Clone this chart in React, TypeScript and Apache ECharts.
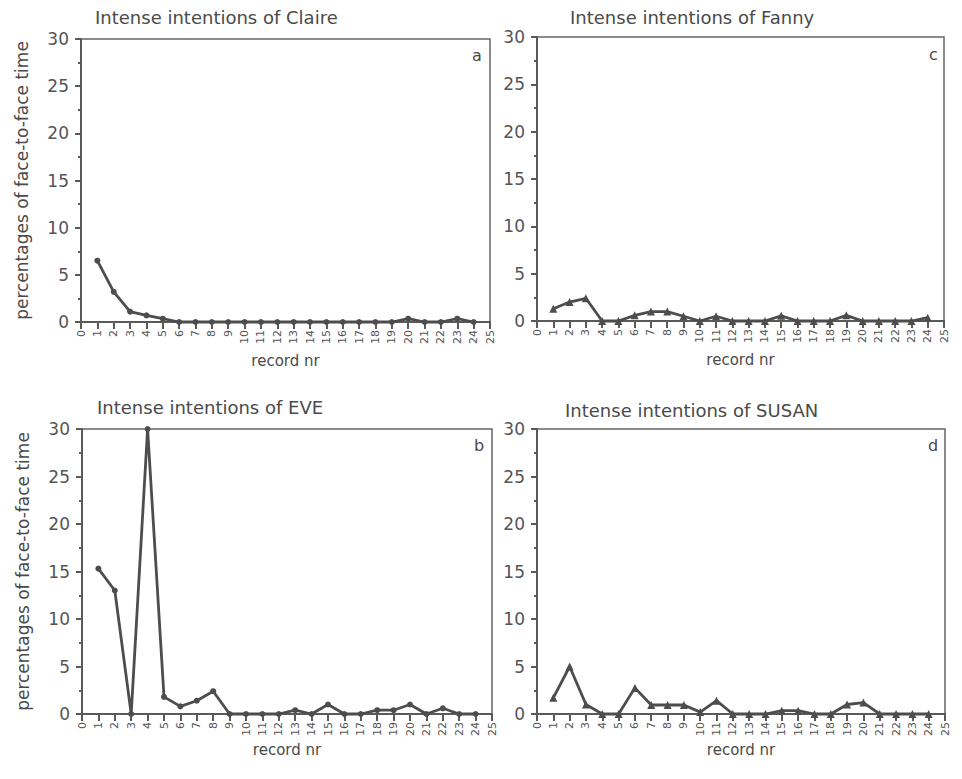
import React, { useEffect, useRef } from "react";
import * as echarts from "echarts";

const records = [1, 2, 3, 4, 5, 6, 7, 8, 9, 10, 11, 12, 13, 14, 15, 16, 17, 18, 19, 20, 21, 22, 23, 24];
const claire = [6.5, 3.2, 1.1, 0.7, 0.35, 0, 0, 0, 0, 0, 0, 0, 0, 0, 0, 0, 0, 0, 0, 0.35, 0, 0, 0.35, 0];
const eve = [15.3, 13.0, 0, 30, 1.8, 0.8, 1.4, 2.4, 0, 0, 0, 0, 0.4, 0, 1.0, 0, 0, 0.4, 0.4, 1.0, 0, 0.6, 0, 0];
const fanny = [1.3, 2.0, 2.4, 0, 0, 0.6, 1.0, 1.0, 0.5, 0, 0.5, 0, 0, 0, 0.55, 0, 0, 0, 0.6, 0, 0, 0, 0, 0.35];
const susan = [1.7, 5.0, 1.0, 0, 0, 2.75, 0.95, 0.95, 0.95, 0.2, 1.4, 0, 0, 0, 0.35, 0.35, 0, 0, 1.0, 1.2, 0, 0, 0, 0];
const titles = [
  "Intense intentions of Claire",
  "Intense intentions of EVE",
  "Intense intentions of Fanny",
  "Intense intentions of SUSAN",
];
const letters = ["a", "b", "c", "d"];
const xName = "record nr";
const yName = "percentages of face-to-face time";

const FONT = "DejaVu Sans";
const INK = "#4a4a4a";
const AX = "#5a5a5a";

export default function App() {
  const ref = useRef<HTMLDivElement>(null);
  useEffect(() => {
    if (!ref.current) return;
    const chart = echarts.init(ref.current, null, { renderer: "svg" });
    const grids = [
      { left: 81, top: 39, width: 409, height: 283 },
      { left: 82, top: 429, width: 410, height: 285 },
      { left: 537, top: 37, width: 407, height: 284 },
      { left: 537, top: 429, width: 408, height: 285 },
    ];
    const datasets = [claire, eve, fanny, susan];
    const symbols = ["circle", "circle", "triangle", "triangle"];
    const symbolSizes = [6, 6, 8, 8];
    const titlePos = [
      { left: 95, top: 8 },
      { left: 97, top: 398 },
      { left: 570, top: 8 },
      { left: 565, top: 401 },
    ];
    const option: any = {
      animation: false,
      backgroundColor: "#ffffff",
      textStyle: { fontFamily: FONT },
      title: titles.map((t, i) => ({
        text: t,
        left: titlePos[i].left,
        top: titlePos[i].top,
        padding: 0,
        textStyle: { fontFamily: FONT, fontSize: 18, fontWeight: "normal", color: INK },
      })),
      grid: grids.map((g) => ({
        ...g,
        show: true,
        borderColor: "#666",
        borderWidth: 1.5,
        backgroundColor: "transparent",
      })),
      xAxis: grids.map((g, i) => ({
        type: "value",
        gridIndex: i,
        min: 0,
        max: 25,
        interval: 1,
        name: xName,
        nameLocation: "middle",
        nameGap: i === 0 || i === 2 ? 31 : 28,
        nameTextStyle: { fontFamily: FONT, fontSize: 15, color: INK },
        axisLine: { show: true, onZero: false, lineStyle: { color: AX, width: 2 } },
        axisTick: { show: true, length: 7, lineStyle: { color: AX, width: 2 } },
        axisLabel: { rotate: 90, fontSize: 11, color: "#555", margin: 8, fontFamily: FONT },
        splitLine: { show: false },
      })),
      yAxis: grids.map((g, i) => ({
        type: "value",
        gridIndex: i,
        min: 0,
        max: 30,
        interval: 5,
        name: i < 2 ? yName : "",
        nameLocation: "middle",
        nameGap: 51,
        nameTextStyle: { fontFamily: FONT, fontSize: 17, color: INK },
        axisLine: { show: true, onZero: false, lineStyle: { color: AX, width: 2 } },
        axisTick: { show: true, length: 6, lineStyle: { color: AX, width: 2 } },
        minorTick: { show: true, splitNumber: 2, length: 3, lineStyle: { color: AX, width: 2 } },
        axisLabel: { fontSize: 17, color: "#555", margin: 12, fontFamily: FONT },
        splitLine: { show: false },
        minorSplitLine: { show: false },
      })),
      series: datasets.map((d, i) => ({
        type: "line",
        xAxisIndex: i,
        yAxisIndex: i,
        data: records.map((r, k) => [r, d[k]]),
        symbol: symbols[i],
        symbolSize: symbolSizes[i],
        showSymbol: true,
        clip: false,
        lineStyle: { color: "#4d4d4d", width: 2.8 },
        itemStyle: { color: "#4d4d4d" },
      })),
      graphic: letters.map((l, i) => ({
        type: "text",
        left: [472, 474, 929, 928][i],
        top: [47, 437, 46, 437][i],
        style: { text: l, fontFamily: FONT, fontSize: 16, fill: INK },
      })),
    };
    chart.setOption(option);
    return () => chart.dispose();
  }, []);
  return (
    <div
      ref={ref}
      style={{ position: "fixed", left: 0, top: 0, width: 962, height: 779, background: "#fff" }}
    />
  );
}
